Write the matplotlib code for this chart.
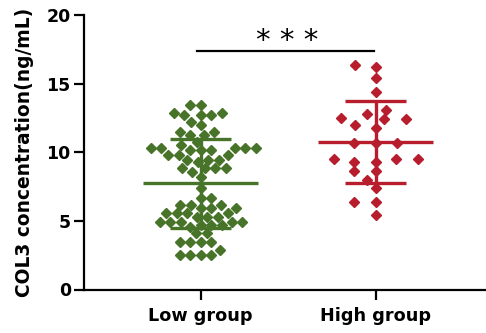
import numpy as np
import matplotlib
matplotlib.use("Agg")
import matplotlib.pyplot as plt

groups = ["Low group", "High group"]
colors = ["#477428", "#b71d2d"]

# values (ng/mL)
low_vals = [13.45, 13.45, 12.84, 12.84, 12.72, 12.72, 12.72, 12.23, 11.99,
            11.50, 11.50, 11.26, 11.26, 10.78, 10.53,
            10.29, 10.29, 10.29, 10.29, 10.29, 10.17, 10.17, 10.17,
            9.80, 9.80, 9.80, 9.44, 9.44, 9.44, 9.32,
            8.83, 8.83, 8.83, 8.83, 8.59, 8.22, 7.37, 6.65, 6.65,
            6.16, 6.16, 6.16, 5.92, 5.92, 5.92, 5.55, 5.55, 5.55, 5.55,
            5.31, 5.31, 5.31, 4.94, 4.94, 4.94, 4.94, 4.94, 4.70, 4.70, 4.70,
            4.58, 4.09, 4.09, 3.49, 3.49, 3.49, 3.49, 2.88,
            2.51, 2.51, 2.51, 2.51]
high_vals = [16.36, 16.2, 15.4, 14.4, 13.1, 12.8, 12.5, 12.4, 12.4, 12.0, 11.8,
             10.7, 10.7, 10.7, 9.5, 9.5, 9.5, 9.3, 9.3, 8.6, 8.6, 8.0, 7.4,
             6.4, 6.4, 5.4]
y_ticks = [0, 5, 10, 15, 20]
sig_label = "* * *"

plt.rcParams["font.family"] = "DejaVu Sans"
plt.rcParams["font.weight"] = "bold"

fig = plt.figure(figsize=(4.86, 3.33), dpi=100)
ax = fig.add_axes([84 / 486, 43.5 / 333, (486 - 84) / 486, 274.5 / 333])
ax.set_xlim(-0.667, 1.63)
ax.set_ylim(0, 20)

# pixel scales for the swarm layout
bbox = ax.get_window_extent()
px_x = bbox.width / (1.63 + 0.667)
px_y = bbox.height / 20.0


def swarm(vals, dx_min, dy_min=9.0):
    # collision test on an ellipse: dx_min wide, dy_min tall (pixels)
    k = dx_min / dy_min
    ys = np.array(vals) * px_y * k
    d = dx_min
    order = np.argsort(ys)
    placed = []
    xs = np.zeros(len(ys))
    for i in order:
        y = ys[i]
        cands = [0.0]
        for (px, py) in placed:
            dy = abs(py - y)
            if dy < d:
                dx = np.sqrt(d * d - dy * dy)
                cands += [px + dx, px - dx]
        cands = sorted(cands, key=lambda c: (abs(c), c))
        for c in cands:
            if all((c - px) ** 2 + (y - py) ** 2 >= d * d - 1e-6 for px, py in placed):
                xs[i] = c
                placed.append((c, y))
                break
    return xs / px_x


spacing = [10.5, 21.5]
for pos, (vals, col) in enumerate(zip([low_vals, high_vals], colors)):
    vals = np.array(vals)
    xoff = swarm(vals, spacing[pos])
    ax.plot(pos + xoff, vals, "D", ms=4.6, color=col, mec=col, zorder=2,
            clip_on=False)
    m = vals.mean()
    sd = vals.std(ddof=1)
    ax.hlines(m, pos - 0.33, pos + 0.33, color=col, lw=2.4, zorder=3)
    ax.vlines(pos, m - sd, m + sd, color=col, lw=2.4, zorder=3)
    ax.hlines([m - sd, m + sd], pos - 0.174, pos + 0.174, color=col, lw=2.4,
              zorder=3)

# significance bar
ax.plot([-0.02, 0.99], [17.4, 17.4], color="black", lw=1.6, clip_on=False)
ax.text(0.494, 17.5, sig_label, ha="center", va="baseline", fontsize=21,
        fontweight="normal")

ax.set_xticks([0, 1])
ax.set_xticklabels(groups, fontsize=12.7, fontweight="bold")
ax.set_yticks(y_ticks)
ax.set_yticklabels([str(t) for t in y_ticks], fontsize=12.5, fontweight="bold")
ax.set_ylabel("COL3 concentration(ng/mL)", fontsize=13.4, fontweight="bold",
              labelpad=9)

for s in ["top", "right"]:
    ax.spines[s].set_visible(False)
for s in ["left", "bottom"]:
    ax.spines[s].set_linewidth(1.6)
ax.tick_params(axis="both", width=1.6, length=7.5)
ax.tick_params(axis="y", pad=2)
ax.tick_params(axis="x", pad=5)

fig.savefig("out.png", dpi=100)
